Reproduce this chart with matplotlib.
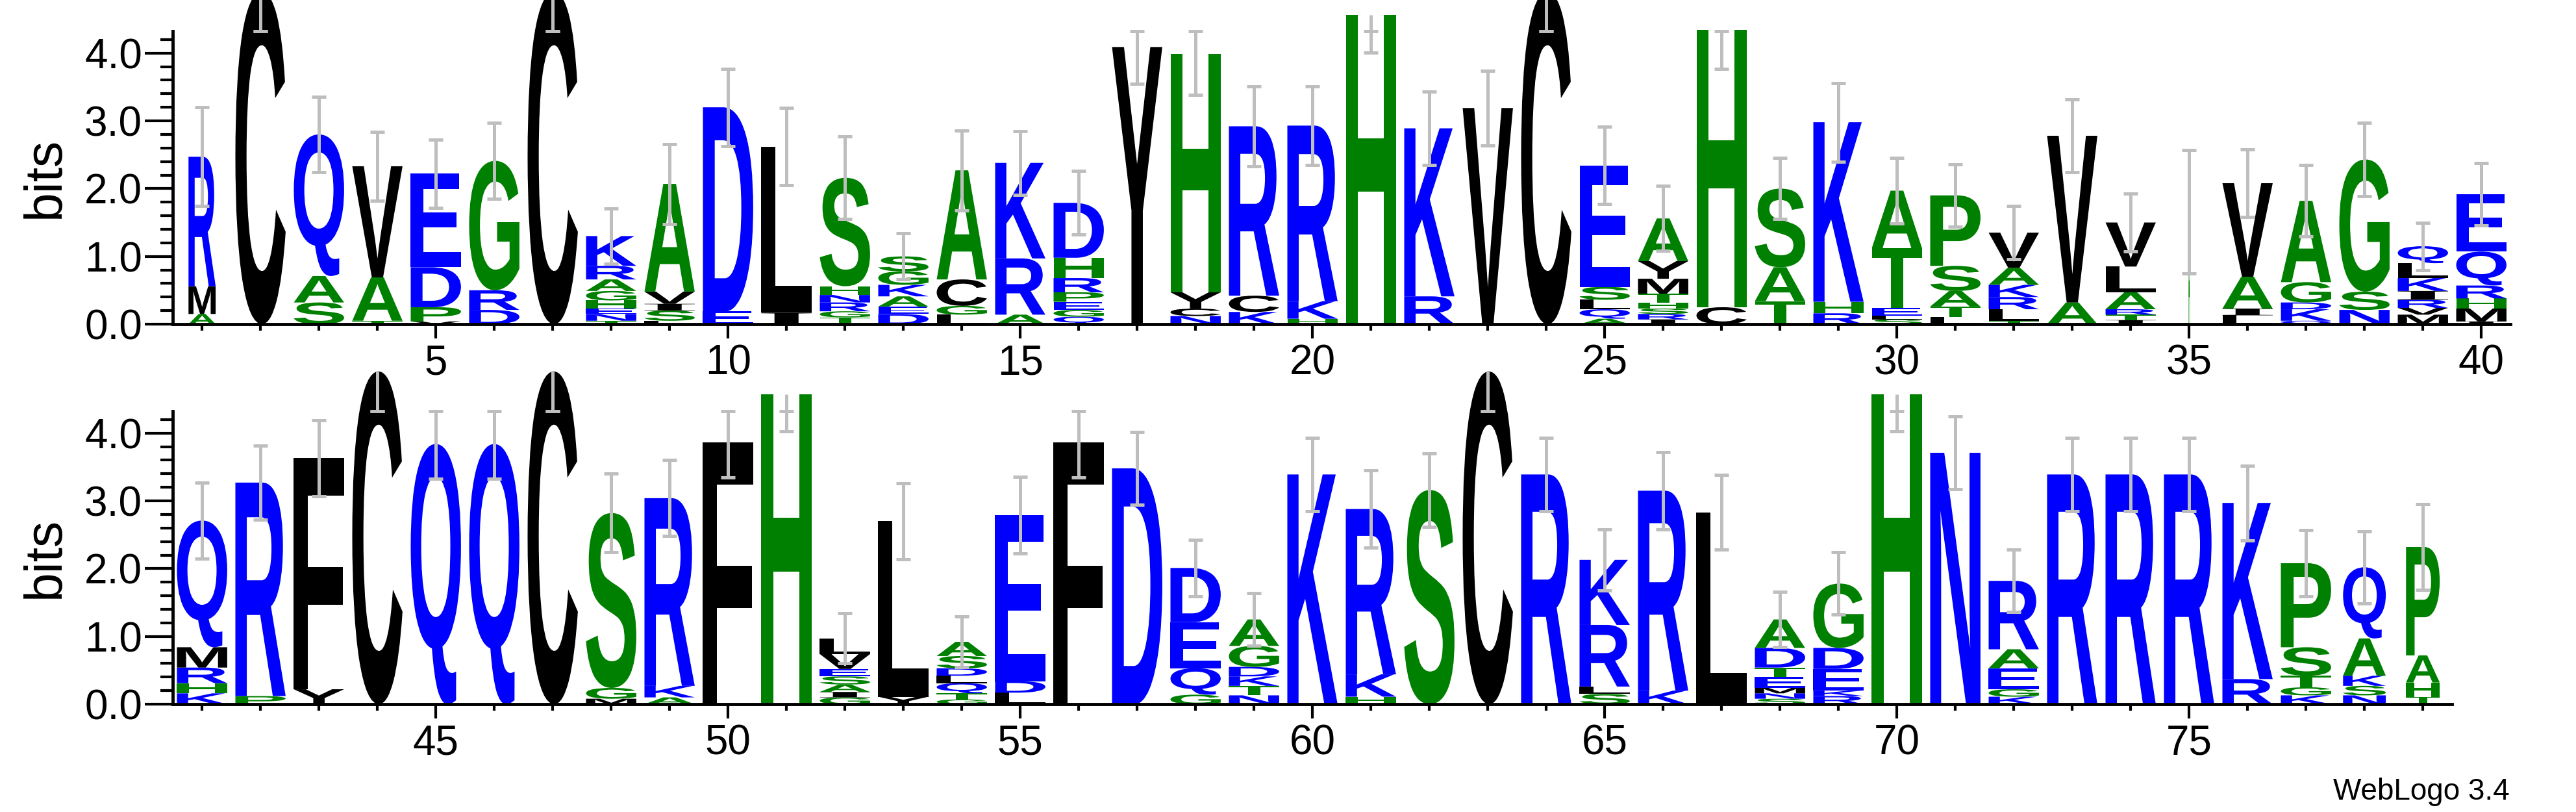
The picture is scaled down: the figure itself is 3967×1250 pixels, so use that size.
import matplotlib
matplotlib.use("Agg")
import matplotlib.pyplot as plt
from matplotlib.textpath import TextPath
from matplotlib.patches import PathPatch
from matplotlib.font_manager import FontProperties
from matplotlib.transforms import Affine2D
from matplotlib.ticker import MultipleLocator, FormatStrFormatter

plt.rcParams['font.family'] = ['Liberation Sans', 'DejaVu Sans']

# ============================================================
#   DATA: one stack per position, letters listed bottom -> top
# ============================================================
positions = list(range(1, 80))

stack_letters = [
    "AMR", "C", "SAQ", "TAV", "VPDE", "DRG", "C", "TNEHGARK", "LSIVA", "ED",
    "IL", "TGRNHS", "DEAKGS", "LGCA", "ARK", "QGEPRHD", "Y", "NCYH", "KCR", "HKR",
    "H", "RK", "V", "C", "AQLSE", "IRSHTMYA", "CH", "TAS", "RHK", "SLETA",
    "LTASP", "TLRKAV", "AV", "ITRALV", "AG", "LIAV", "QKDGA", "NSG", "MVRIKLQ", "IMHRQE",
    "KHRMQ", "PR", "YF", "C", "Q", "Q", "C", "MGS", "AKR", "F",
    "H", "GIASEVL", "YL", "GTQLDSA", "LDE", "F", "D", "GQED", "NTKDGA", "K",
    "HKR", "S", "C", "R", "SLRK", "KR", "L", "SNMETDA", "RKEDG", "H",
    "N", "KGEAR", "R", "R", "R", "RK", "KGTSP", "NSKAQ", "THAP",
]

stack_heights = [
    [0.15, 0.41, 1.91], [4.90], [0.32, 0.39, 2.09], [0.05, 0.64, 1.64],
    [0.04, 0.21, 0.59, 1.38], [0.21, 0.29, 1.91], [4.90],
    [0.05, 0.10, 0.08, 0.12, 0.14, 0.17, 0.20, 0.44],
    [0.05, 0.15, 0.10, 0.18, 1.59], [0.19, 3.01],
    [0.17, 2.45], [0.10, 0.09, 0.13, 0.11, 0.13, 1.60],
    [0.15, 0.11, 0.15, 0.17, 0.20, 0.22], [0.14, 0.13, 0.39, 1.61],
    [0.14, 0.83, 1.41], [0.11, 0.10, 0.12, 0.14, 0.21, 0.30, 0.81],
    [4.09], [0.12, 0.11, 0.24, 3.52], [0.18, 0.24, 2.50], [0.08, 0.26, 2.59],
    [4.56], [0.41, 2.48], [3.19], [4.90], [0.08, 0.14, 0.14, 0.19, 1.79],
    [0.07, 0.08, 0.08, 0.09, 0.13, 0.22, 0.26, 0.63], [0.25, 4.09],
    [0.34, 0.50, 1.16], [0.16, 0.17, 2.65], [0.07, 0.05, 0.12, 0.88, 0.85],
    [0.11, 0.15, 0.23, 0.37, 1.04], [0.05, 0.17, 0.18, 0.18, 0.25, 0.52],
    [0.32, 2.46], [0.06, 0.08, 0.08, 0.25, 0.38, 0.65], [1.56, 0.10],
    [0.13, 0.10, 0.47, 1.38], [0.05, 0.17, 0.10, 0.30, 1.20], [0.21, 0.27, 1.95],
    [0.14, 0.10, 0.12, 0.13, 0.19, 0.22, 0.25], [0.04, 0.19, 0.15, 0.19, 0.50, 0.85],
    [0.16, 0.15, 0.23, 0.30, 1.87], [0.12, 3.15], [0.22, 3.41], [4.91],
    [3.84], [3.84], [4.91], [0.08, 0.16, 2.58], [0.10, 0.17, 2.77], [3.86],
    [4.57], [0.10, 0.08, 0.11, 0.12, 0.11, 0.22, 0.23], [0.11, 2.59],
    [0.07, 0.09, 0.15, 0.11, 0.11, 0.18, 0.21], [0.17, 0.17, 2.45], [3.86],
    [3.48], [0.14, 0.39, 0.68, 0.80], [0.13, 0.14, 0.14, 0.14, 0.31, 0.39], [3.39],
    [0.11, 0.33, 2.44], [3.16], [4.91], [3.39], [0.15, 0.11, 0.91, 0.96],
    [0.20, 2.95], [2.83], [0.08, 0.08, 0.08, 0.16, 0.14, 0.29, 0.42],
    [0.12, 0.08, 0.32, 0.31, 0.95], [4.57],
    [3.71], [0.11, 0.11, 0.31, 0.28, 1.01], [3.39], [3.39], [3.39],
    [0.37, 2.60], [0.13, 0.12, 0.17, 0.42, 1.24], [0.13, 0.14, 0.15, 0.55, 1.05],
    [0.11, 0.21, 0.40, 1.60],
]

# error bar half-lengths (bits)
stack_errors = [
    0.73, 0.58, 0.56, 0.51, 0.50, 0.56, 0.58, 0.41, 0.59, 0.57,
    0.57, 0.61, 0.34, 0.59, 0.47, 0.47, 0.54, 0.61, 0.59, 0.58,
    0.55, 0.54, 0.55, 0.58, 0.57, 0.48, 0.57, 0.45, 0.58, 0.48,
    0.46, 0.39, 0.54, 0.43, 0.91, 0.50, 0.53, 0.54, 0.35, 0.46,
    0.56, 0.55, 0.56, 0.59, 0.51, 0.51, 0.59, 0.58, 0.56, 0.51,
    0.54, 0.37, 0.56, 0.37, 0.57, 0.51, 0.54, 0.42, 0.39, 0.54,
    0.57, 0.54, 0.59, 0.54, 0.45, 0.57, 0.55, 0.41, 0.46, 0.54,
    0.54, 0.46, 0.54, 0.54, 0.54, 0.55, 0.49, 0.53, 0.63,
]

# relative stack widths (columns with gaps are narrower)
stack_widths = [1.0] * 79
stack_widths[0] = 0.54
stack_widths[34] = 0.03
stack_widths[77] = 0.85
stack_widths[78] = 0.67

MAX_BITS = 4.32

# hydrophobicity colour scheme
COLORS = {}
for c in "RKDENQ":
    COLORS[c] = "#0000ff"
for c in "SGHTAP":
    COLORS[c] = "#008000"
for c in "YVMCLFIW":
    COLORS[c] = "#000000"

FONT = FontProperties(family="Liberation Sans", weight="bold")
FONT_I = FontProperties(family="Liberation Serif", weight="bold")  # serif I like WebLogo
_glyphs = {}


def glyph(letter):
    if letter not in _glyphs:
        prop = FONT_I if letter == "I" else FONT
        tp = TextPath((0, 0), letter, size=1, prop=prop)
        _glyphs[letter] = (tp, tp.get_extents())
    return _glyphs[letter]


def draw_letter(ax, letter, xc, y0, w, h):
    tp, bb = glyph(letter)
    t = (Affine2D()
         .translate(-bb.x0, -bb.y0)
         .scale(w / bb.width, h / bb.height)
         .translate(xc - w / 2, y0))
    patch = PathPatch(t.transform_path(tp), facecolor=COLORS[letter],
                      edgecolor="none", lw=0, clip_on=False, zorder=2)
    ax.add_patch(patch)


def draw_errbar(ax, x, h, e):
    grey = "#bebebe"
    lo = h - e
    hi_line = min(h + e, max(h, MAX_BITS))
    hi_cap = min(h + e, MAX_BITS)
    ax.plot([x, x], [lo, hi_line], color=grey, lw=3.6,
            solid_capstyle="butt", clip_on=False, zorder=3)
    for yc in (lo, hi_cap):
        ax.plot([x - 0.12, x + 0.12], [yc, yc], color=grey, lw=3.6,
                solid_capstyle="butt", clip_on=False, zorder=3)


def style_axes(ax, xmin, xmax):
    ax.set_xlim(xmin, xmax)
    ax.set_ylim(0, MAX_BITS)
    for side in ("top", "right"):
        ax.spines[side].set_visible(False)
    for side in ("left", "bottom"):
        ax.spines[side].set_linewidth(3.5)
    ax.xaxis.set_major_locator(MultipleLocator(5))
    ax.xaxis.set_minor_locator(MultipleLocator(1))
    ax.yaxis.set_major_locator(MultipleLocator(1))
    ax.yaxis.set_minor_locator(MultipleLocator(0.2))
    ax.yaxis.set_major_formatter(FormatStrFormatter("%.1f"))
    ax.tick_params(axis="y", which="major", length=31, width=3,
                   labelsize=46, pad=3)
    ax.tick_params(axis="y", which="minor", length=14, width=3)
    ax.tick_params(axis="x", which="major", length=16, width=3,
                   labelsize=46, pad=6)
    ax.tick_params(axis="x", which="minor", length=7, width=3)


def draw_row(ax, idx):
    for i in idx:
        x = positions[i]
        w = 0.86 * stack_widths[i]
        y = 0.0
        for letter, hh in zip(stack_letters[i], stack_heights[i]):
            draw_letter(ax, letter, x, y, w, hh)
            y += hh
        draw_errbar(ax, x, y, stack_errors[i])


fig = plt.figure(figsize=(39.67, 12.5), dpi=100)

ax1 = fig.add_axes([0.0671, 0.6008, 0.9075, 0.3605])
ax2 = fig.add_axes([0.0671, 0.1328, 0.8848, 0.3605])

style_axes(ax1, 0.5, 40.5)
style_axes(ax2, 40.5, 79.5)

draw_row(ax1, range(0, 40))
draw_row(ax2, range(40, 79))

fig.text(70 / 3967, 1 - 273 / 1250, "bits", rotation=90, fontsize=58,
         ha="center", va="center")
fig.text(70 / 3967, 1 - 858 / 1250, "bits", rotation=90, fontsize=58,
         ha="center", va="center")
fig.text(3865 / 3967, 1 - 1231 / 1250, "WebLogo 3.4", fontsize=33,
         ha="right", va="baseline")

fig.savefig("out.png", dpi=100)
